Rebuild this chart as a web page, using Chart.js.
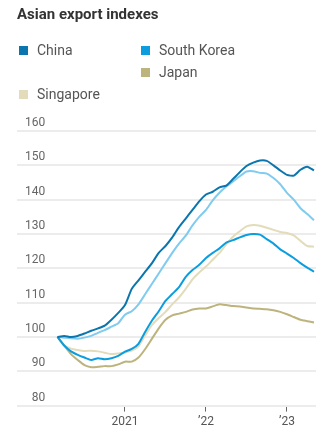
<!DOCTYPE html>
<html lang="en">
<head>
    <meta charset="UTF-8">
    <title>Asian export indexes</title>
    <script src="https://cdn.jsdelivr.net/npm/chart.js"></script>
    <style>
        body {
            margin: 0;
            font-family: "Roboto", sans-serif;
            background: #fff;
        }

        .wrap {
            position: relative;
            width: 323px;
            height: 434px;
        }

        h1 {
            position: absolute;
            left: 17px;
            top: 5px;
            margin: 0;
            font-size: 15px;
            font-weight: bold;
            color: #333;
        }

        .key {
            position: absolute;
            font-size: 14px;
            color: #555;
            line-height: 16px;
            white-space: nowrap;
        }

        .key i {
            display: inline-block;
            width: 9px;
            height: 9px;
            margin-right: 9px;
            vertical-align: 0px;
        }

        canvas {
            position: absolute;
            left: 0;
            top: 0;
        }
    </style>
</head>
<body>
    <div class="wrap">
        <canvas id="exportChart" width="323" height="434"></canvas>
        <h1>Asian export indexes</h1>
        <div class="key" style="left:19px;top:42px"><i style="background:#0b76ad"></i>China</div>
        <div class="key" style="left:141px;top:42px"><i style="background:#0c9ddf"></i>South Korea</div>
        <div class="key" style="left:141px;top:64px"><i style="background:#bcb37d"></i>Japan</div>
        <div class="key" style="left:19px;top:86px"><i style="background:#e2dcba"></i>Singapore</div>
    </div>

    <script>
        // monthly, Mar 2020 - May 2023, index = 100 at start
        const months = ['2020-03', '2020-04', '2020-05', '2020-06', '2020-07', '2020-08', '2020-09', '2020-10', '2020-11', '2020-12',
            '2021-01', '2021-02', '2021-03', '2021-04', '2021-05', '2021-06', '2021-07', '2021-08', '2021-09', '2021-10', '2021-11', '2021-12',
            '2022-01', '2022-02', '2022-03', '2022-04', '2022-05', '2022-06', '2022-07', '2022-08', '2022-09', '2022-10', '2022-11', '2022-12',
            '2023-01', '2023-02', '2023-03', '2023-04', '2023-05'];

        const china = [100, 100.3, 100, 100.3, 101, 101.8, 102.5, 103.3, 105, 107,
            109.3, 114, 116.5, 119, 121.5, 124.5, 126.5, 129, 132, 134.5, 137, 139.5,
            141.5, 142.3, 143.6, 144.1, 146, 148, 149.8, 150.8, 151.4, 151.3, 150, 148.5,
            147.2, 147, 148.7, 149.6, 148.5];

        const southKorea = [100, 97.5, 95.8, 94.8, 94, 93.3, 93.8, 93.5, 93.8, 94.5,
            95.7, 96.5, 98, 101.5, 104.8, 107.5, 110.5, 112.5, 114.5, 117.5, 119.5, 121,
            123, 124.5, 125.8, 127.5, 128.2, 129, 129.7, 130, 129.8, 128.5, 127.2, 125.5,
            124.3, 123, 121.5, 120.2, 119];

        // fifth line, not in the key
        const other = [100, 99.8, 99.6, 99.5, 99.8, 100.3, 101.2, 102, 103, 104,
            106.5, 107.5, 109.5, 112.5, 115.5, 118.5, 121.5, 124.5, 127.2, 129.5, 132.5, 135,
            137, 139.8, 142, 143.8, 145.3, 146.8, 148.2, 148.3, 147.8, 147.6, 146.3, 144.5,
            142, 140, 137.5, 135.8, 134];

        const japan = [100, 97.5, 95, 93.3, 91.8, 91.2, 91.3, 91.5, 91.5, 92,
            92.8, 92.8, 94, 96.5, 99.5, 102.5, 105, 106.3, 106.8, 107.3, 108, 108.3,
            108.3, 108.9, 109.5, 109.3, 109, 108.9, 108.6, 108.3, 108.2, 108.1, 107.8, 107.3,
            106.6, 105.8, 105, 104.6, 104.2];

        const singapore = [100, 97.5, 96.6, 96.2, 95.9, 96, 95.8, 95.4, 95, 95.2,
            95.5, 96, 97.3, 100.5, 103.5, 105.5, 107.3, 109.5, 111.5, 114, 116.8, 118.8,
            120.5, 122.5, 124.5, 127, 129.2, 130.8, 132.2, 132.6, 132.4, 131.8, 131.2, 130.6,
            130.3, 129.6, 128, 126.5, 126.3];

        const yearTicks = [2021, 2022, 2023];
        const yearLabels = ['2021', '\u201922', '\u201923'];

        // month string -> decimal year for the linear x axis
        function toYear(m) {
            const [y, mo] = m.split('-').map(Number);
            return y + (mo - 1) / 12;
        }

        function series(values) {
            return values.map((v, i) => ({ x: toYear(months[i]), y: v }));
        }

        function line(label, values, color) {
            return {
                label: label,
                data: series(values),
                borderColor: color,
                backgroundColor: color,
                borderWidth: 2,
                pointRadius: 0,
                tension: 0.2,
                fill: false
            };
        }

        const ctx = document.getElementById('exportChart').getContext('2d');
        new Chart(ctx, {
            type: 'line',
            data: {
                datasets: [
                    line('China', china, '#0b76ad'),
                    line('South Korea', southKorea, '#0c9ddf'),
                    line('Other', other, '#80cbf0'),
                    line('Japan', japan, '#bcb37d'),
                    line('Singapore', singapore, '#e2dcba')
                ]
            },
            options: {
                responsive: false,
                animation: false,
                layout: {
                    padding: { left: 1, right: 7, top: 131, bottom: 2 }
                },
                plugins: {
                    legend: { display: false },
                    tooltip: { enabled: false }
                },
                scales: {
                    x: {
                        type: 'linear',
                        min: 2019.667,
                        max: 2023.358,
                        afterBuildTicks: axis => {
                            axis.ticks = yearTicks.map(v => ({ value: v }));
                        },
                        grid: {
                            drawOnChartArea: false,
                            drawTicks: true,
                            tickLength: 6,
                            color: '#666'
                        },
                        border: { display: false },
                        ticks: {
                            autoSkip: false,
                            maxRotation: 0,
                            padding: 3,
                            color: '#555',
                            font: { family: 'Roboto', size: 12 },
                            callback: v => yearLabels[yearTicks.indexOf(v)]
                        }
                    },
                    y: {
                        min: 80,
                        max: 160,
                        ticks: {
                            stepSize: 10,
                            mirror: true,
                            crossAlign: 'far',
                            padding: 8,
                            labelOffset: -8,
                            color: '#666',
                            font: { family: 'Roboto', size: 12 }
                        },
                        grid: {
                            drawTicks: false,
                            color: '#ececec',
                            lineWidth: 2
                        },
                        border: { display: false }
                    }
                }
            }
        });
    </script>
</body>
</html>
